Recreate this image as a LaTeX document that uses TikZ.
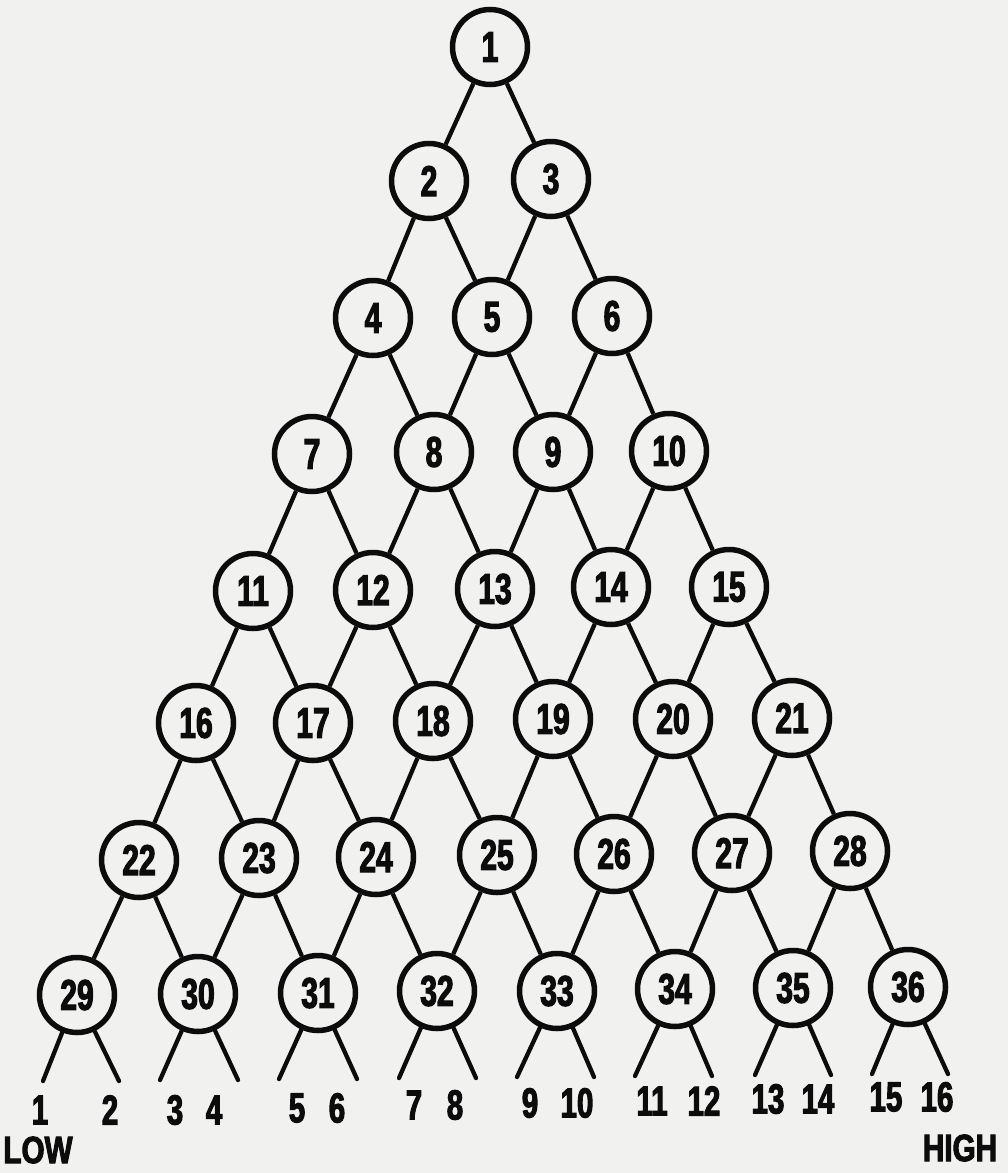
\documentclass[tikz,border=0pt]{standalone}
\usepackage{fontspec}
\setmainfont{Liberation Sans}[FakeStretch=0.78, BoldFeatures={FakeBold=2.5}]
\newfontfamily\numfont{Liberation Sans}[FakeStretch=0.7, BoldFeatures={FakeBold=2.5}]
\definecolor{paper}{RGB}{241,241,239}
\definecolor{ink}{RGB}{12,12,12}
\tikzset{
  circ/.style={circle, draw=ink, line width=5.5pt, minimum size=75pt, inner sep=0pt,
    text=ink, font=\numfont\fontsize{43}{43}\selectfont\bfseries},
  link/.style={draw=ink, line width=4.3pt},
  leaflab/.style={text=ink, inner sep=0pt, font=\numfont\fontsize{42}{42}\selectfont\bfseries},
  endlab/.style={text=ink, inner sep=0pt, font=\fontsize{38}{38}\selectfont\bfseries},
}
\begin{document}
\begin{tikzpicture}[x=1pt,y=-1pt]
\fill[paper] (0,0) rectangle (1008,1173);
\useasboundingbox (0,0) rectangle (1008,1173);
\foreach \n/\x/\y in {
  1/490/47,
  2/429/181, 3/551/179,
  4/373/318, 5/492/317, 6/612/316,
  7/312/454, 8/434/452, 9/553/452, 10/669/451,
  11/253/591, 12/373/590, 13/495/589, 14/611/587, 15/729/587,
  16/196/723, 17/313/723, 18/433/721, 19/553/719, 20/673/719, 21/792/718,
  22/139/860, 23/259/858, 24/376/857, 25/497/855, 26/614/854, 27/732/853, 28/850/851,
  29/77/995, 30/198/994, 31/318/993, 32/437/991, 33/557/991, 34/675/989, 35/793/988, 36/908/987}
  \node[circ] (n\n) at (\x,\y) {\n};
\foreach \p/\l/\r in {1/2/3, 2/4/5, 3/5/6, 4/7/8, 5/8/9, 6/9/10, 7/11/12, 8/12/13, 9/13/14,
  10/14/15, 11/16/17, 12/17/18, 13/18/19, 14/19/20, 15/20/21, 16/22/23, 17/23/24,
  18/24/25, 19/25/26, 20/26/27, 21/27/28, 22/29/30, 23/30/31, 24/31/32, 25/32/33,
  26/33/34, 27/34/35, 28/35/36}
  {\draw[link] (n\p) -- (n\l); \draw[link] (n\p) -- (n\r);}
% leaf ends and labels
\foreach \n/\a/\b/\ex/\fx/\ey/\ax/\bx/\ly in {
  29/1/2/43/119/1081/40/110/1110,
  30/3/4/160/238/1080/175/214/1110,
  31/5/6/279/357/1079/297/337/1108,
  32/7/8/399/476/1078/414/455/1105,
  33/9/10/517/594/1077/530/577/1103,
  34/11/12/635/712/1076/652/704/1101,
  35/13/14/755/831/1075/768/818/1099,
  36/15/16/872/948/1074/886/937/1097}
{
  \coordinate (e\a) at (\ex,\ey);
  \coordinate (e\b) at (\fx,\ey);
  \draw[link, line cap=round] (n\n) -- (e\a);
  \draw[link, line cap=round] (n\n) -- (e\b);
  \node[leaflab] (l\a) at (\ax,\ly) {\a};
  \node[leaflab] (l\b) at (\bx,\ly) {\b};
}
\node[endlab] (low) at (38,1150) {LOW};
\node[endlab] (high) at (960,1148) {HIGH};
\end{tikzpicture}
\end{document}
